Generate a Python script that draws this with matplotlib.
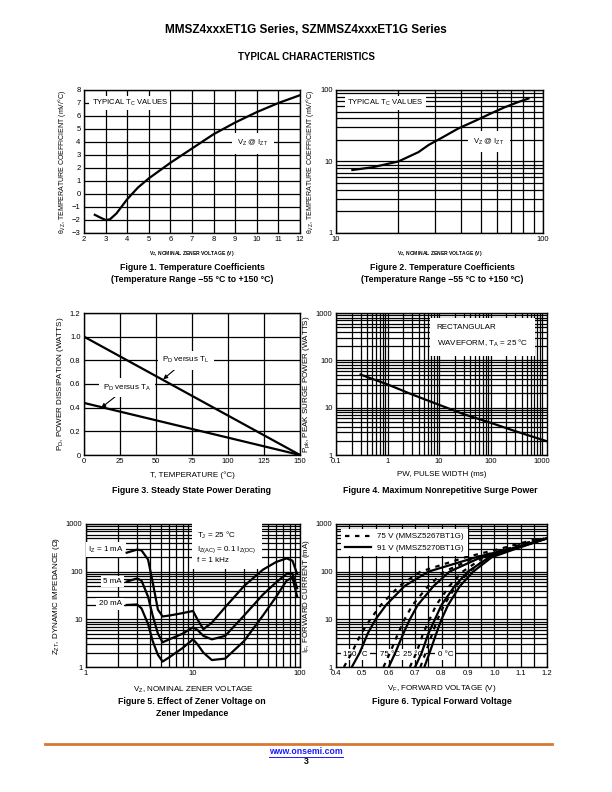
import numpy as np
import matplotlib.pyplot as plt
from matplotlib.lines import Line2D
from matplotlib.ticker import LogLocator, NullFormatter, FixedLocator

plt.rcParams['font.family'] = ['Liberation Sans', 'DejaVu Sans']
plt.rcParams['mathtext.fontset'] = 'custom'
plt.rcParams['mathtext.rm'] = 'Liberation Sans'
plt.rcParams['mathtext.it'] = 'Liberation Sans:italic'
plt.rcParams['mathtext.bf'] = 'Liberation Sans:bold'
plt.rcParams['mathtext.default'] = 'regular'

# Figure 1: temperature coefficient, 2-12 V
f1_vz = [2.5, 2.8, 3.0, 3.2, 3.5, 4.0, 4.5, 5.0, 6.0, 7.0, 8.0, 9.0, 10.0, 11.0, 12.0]
f1_tc = [-1.6, -1.85, -2.0, -1.95, -1.5, -0.4, 0.5, 1.2, 2.4, 3.5, 4.6, 5.5, 6.3, 7.0, 7.6]

# Figure 2: temperature coefficient, 10-100 V
f2_vz = [12, 15, 20, 25, 28, 32, 39, 47, 56, 65, 75, 85]
f2_tc = [7.6, 8.3, 10.0, 13.5, 17.0, 21.0, 29.0, 37.0, 47.0, 57.0, 67.0, 76.0]

# Figure 3: power derating
f3_t = [0, 150]
f3_tl = [1.0, 0.0]
f3_ta = [0.44, 0.0]

# Figure 4: surge power
f4_pw = [0.3, 1, 3, 10, 30, 100, 300, 1250]
f4_ppk = [50, 31, 19, 11.5, 7.3, 4.8, 3.2, 1.95]

# Figure 5: zener impedance
f5_vz = [2.4, 3.0, 3.3, 3.8, 4.2, 4.7, 5.2, 6.0, 8.0, 10.0, 11.0, 12.5, 15.0, 20.0, 30.0, 45.0, 60.0, 75.0, 85.0, 94.0]
f5_1ma = [250, 290, 280, 180, 60, 16, 11.5, 12, 13.5, 15, 10, 6.2, 8.5, 18, 50, 110, 160, 190, 170, 90]
f5_5ma = [62, 72, 65, 30, 12, 5, 3.3, 3.8, 5.0, 6.8, 6.0, 4.5, 3.8, 4.5, 12, 33, 60, 90, 90, 45]
f5_20ma = [20, 20.5, 17, 8, 3.5, 1.8, 1.3, 1.6, 2.5, 3.8, 3.0, 2.0, 1.4, 1.5, 3.5, 12, 30, 65, 75, 30]

# Figure 6: forward voltage (V) at these currents (mA)
f6_if = [1, 2, 5, 10, 20, 50, 100, 200, 300, 500]
f6_91v = {
    '150': [0.46, 0.49, 0.52, 0.55, 0.59, 0.66, 0.75, 0.93, 1.06, 1.20],
    '75': [0.60, 0.625, 0.655, 0.68, 0.71, 0.77, 0.83, 0.95, 1.07, 1.20],
    '25': [0.70, 0.725, 0.75, 0.775, 0.80, 0.85, 0.90, 0.98, 1.07, 1.20],
    '0': [0.735, 0.755, 0.78, 0.80, 0.825, 0.87, 0.92, 0.99, 1.08, 1.20],
}
f6_75v = {
    '150': [0.43, 0.46, 0.495, 0.53, 0.57, 0.64, 0.72, 0.89, 1.02, 1.17],
    '75': [0.58, 0.605, 0.635, 0.66, 0.69, 0.75, 0.81, 0.93, 1.05, 1.18],
    '25': [0.68, 0.705, 0.73, 0.755, 0.78, 0.83, 0.88, 0.96, 1.05, 1.18],
    '0': [0.72, 0.74, 0.765, 0.785, 0.81, 0.855, 0.905, 0.975, 1.065, 1.19],
}

W, H = 612, 792
fig = plt.figure(figsize=(W / 100, H / 100), dpi=100)


def box(l, t, r, b):
    return [l / W, 1 - b / H, (r - l) / W, (b - t) / H]


def ptext(x, y, s, **kw):
    fig.text(x / W, 1 - y / H, s, **kw)


def style(ax):
    for sp in ax.spines.values():
        sp.set_linewidth(1.0)
    ax.tick_params(which='both', length=0, labelsize=5.5, pad=2.5)
    ax.grid(True, which='both', color='black', lw=0.9)
    ax.set_axisbelow(True)


def logaxis(axis):
    axis.set_major_locator(LogLocator(base=10))
    axis.set_minor_locator(LogLocator(base=10, subs=np.arange(2, 10)))
    axis.set_minor_formatter(NullFormatter())


white = dict(facecolor='white', edgecolor='none', pad=1.5)
lab = dict(fontsize=5.5)

# header
ptext(306, 30, 'MMSZ4xxxET1G Series, SZMMSZ4xxxET1G Series', ha='center', va='center',
      fontsize=8.5, fontweight='bold')
ptext(306, 57, 'TYPICAL CHARACTERISTICS', ha='center', va='center', fontsize=7, fontweight='bold')

# ---- Figure 1
ax = fig.add_axes(box(84, 90, 300, 233))
ax.plot(f1_vz, f1_tc, color='black', lw=1.6, zorder=4)
ax.set_xlim(2, 12)
ax.set_ylim(-3, 8)
ax.set_xticks(range(2, 13))
ax.set_yticks(range(-3, 9))
ax.set_yticklabels([str(v).replace('-', '\u2212') for v in range(-3, 9)])
style(ax)
ax.text(2.35, 7, r'TYPICAL T$_C$ VALUES', va='center', bbox=white, **lab)
ax.text(9.1, 3.9, r'V$_Z$ @ I$_{ZT}$', va='center', bbox=dict(facecolor='white', edgecolor='none', pad=4), **lab)
ax.set_xlabel(r'V$_Z$, NOMINAL ZENER VOLTAGE (V)', fontsize=3.6, fontweight='bold', labelpad=4)
ax.set_ylabel(r'$\theta_{VZ}$, TEMPERATURE COEFFICIENT (mV/°C)', fontsize=5, labelpad=3)
ptext(192, 268, 'Figure 1. Temperature Coefficients', ha='center', va='center', fontsize=6.3, fontweight='bold')
ptext(192, 279, '(Temperature Range \u221255 °C to +150 °C)', ha='center', va='center', fontsize=6.3, fontweight='bold')

# ---- Figure 2
ax = fig.add_axes(box(336, 90, 543, 233))
ax.plot(f2_vz, f2_tc, color='black', lw=1.6, zorder=4)
ax.set_xscale('log')
ax.set_yscale('log')
ax.set_xlim(10, 100)
ax.set_ylim(1, 100)
logaxis(ax.xaxis)
logaxis(ax.yaxis)
ax.xaxis.set_major_formatter(plt.FuncFormatter(lambda v, p: f'{v:g}'))
ax.yaxis.set_major_formatter(plt.FuncFormatter(lambda v, p: f'{v:g}'))
style(ax)
ax.text(11.3, 66, r'TYPICAL T$_C$ VALUES', va='center', bbox=white, **lab)
ax.text(46, 19, r'V$_Z$ @ I$_{ZT}$', va='center', bbox=dict(facecolor='white', edgecolor='none', pad=4), **lab)
ax.set_xlabel(r'V$_Z$, NOMINAL ZENER VOLTAGE (V)', fontsize=3.6, fontweight='bold', labelpad=4)
ax.set_ylabel(r'$\theta_{VZ}$, TEMPERATURE COEFFICIENT (mV/°C)', fontsize=5, labelpad=3)
ptext(442, 268, 'Figure 2. Temperature Coefficients', ha='center', va='center', fontsize=6.3, fontweight='bold')
ptext(442, 279, '(Temperature Range \u221255 °C to +150 °C)', ha='center', va='center', fontsize=6.3, fontweight='bold')

# ---- Figure 3
ax = fig.add_axes(box(84, 313, 300, 455))
ax.plot(f3_t, f3_tl, color='black', lw=1.6, zorder=4)
ax.plot(f3_t, f3_ta, color='black', lw=1.6, zorder=4)
ax.set_xlim(0, 150)
ax.set_ylim(0, 1.2)
ax.set_xticks(range(0, 151, 25))
ax.set_yticks(np.arange(0, 1.21, 0.2))
ax.set_yticklabels(['0', '0.2', '0.4', '0.6', '0.8', '1.0', '1.2'])
style(ax)
ax.annotate(r'P$_D$ versus T$_L$', xy=(55, 0.64), xytext=(54, 0.80), fontsize=5.8, va='center',
            bbox=dict(facecolor='white', edgecolor='none', pad=3),
            arrowprops=dict(arrowstyle='-|>', color='black', lw=0.8, mutation_scale=6, shrinkA=0, shrinkB=0))
ax.annotate(r'P$_D$ versus T$_A$', xy=(12, 0.40), xytext=(13, 0.57), fontsize=5.8, va='center',
            bbox=dict(facecolor='white', edgecolor='none', pad=3),
            arrowprops=dict(arrowstyle='-|>', color='black', lw=0.8, mutation_scale=6, shrinkA=0, shrinkB=0))
ax.set_xlabel('T, TEMPERATURE (°C)', fontsize=5.8, labelpad=4)
ax.set_ylabel(r'P$_D$, POWER DISSIPATION (WATTS)', fontsize=5.8, labelpad=3)
ptext(192, 490, 'Figure 3. Steady State Power Derating', ha='center', va='center', fontsize=6.3, fontweight='bold')

# ---- Figure 4
ax = fig.add_axes(box(336, 313, 547, 455))
ax.plot(f4_pw, f4_ppk, color='black', lw=1.6, zorder=4)
ax.set_xscale('log')
ax.set_yscale('log')
ax.set_xlim(0.1, 1250)
ax.set_ylim(1, 1000)
logaxis(ax.xaxis)
logaxis(ax.yaxis)
ax.xaxis.set_major_formatter(plt.FuncFormatter(lambda v, p: f'{v:g}'))
ax.yaxis.set_major_formatter(plt.FuncFormatter(lambda v, p: f'{v:g}'))
style(ax)
ax.text(9, 320, 'RECTANGULAR\n' + r'WAVEFORM, T$_A$ = 25 °C', va='center', fontsize=5.8, linespacing=1.8,
        bbox=dict(facecolor='white', edgecolor='none', pad=5))
ax.set_xlabel('PW, PULSE WIDTH (ms)', fontsize=5.8, labelpad=4)
ax.set_ylabel(r'P$_{pk}$, PEAK SURGE POWER (WATTS)', fontsize=5.8, labelpad=3)
ptext(440, 490, 'Figure 4. Maximum Nonrepetitive Surge Power', ha='center', va='center', fontsize=6.3, fontweight='bold')

# ---- Figure 5
ax = fig.add_axes(box(86, 524, 300, 667))
for ys in (f5_1ma, f5_5ma, f5_20ma):
    ax.plot(f5_vz, ys, color='black', lw=1.6, zorder=4)
ax.set_xscale('log')
ax.set_yscale('log')
ax.set_xlim(1, 100)
ax.set_ylim(1, 1000)
logaxis(ax.xaxis)
logaxis(ax.yaxis)
ax.xaxis.set_major_formatter(plt.FuncFormatter(lambda v, p: f'{v:g}'))
ax.yaxis.set_major_formatter(plt.FuncFormatter(lambda v, p: f'{v:g}'))
style(ax)
ax.text(2.25, 290, r'I$_Z$ = 1 mA', ha='right', va='center', fontsize=5.8, bbox=white)
ax.text(2.15, 63, '5 mA', ha='right', va='center', fontsize=5.8, bbox=white)
ax.text(2.15, 21, '20 mA', ha='right', va='center', fontsize=5.8, bbox=white)
ax.text(11, 330, r'T$_J$ = 25 °C' + '\n' + r'I$_{Z(AC)}$ = 0.1 I$_{Z(DC)}$' + '\nf = 1 kHz',
        va='center', fontsize=5.8, linespacing=1.4, bbox=dict(facecolor='white', edgecolor='none', pad=4))
ax.set_xlabel(r'V$_Z$, NOMINAL ZENER VOLTAGE', fontsize=5.8, labelpad=5)
ax.set_ylabel(r'Z$_{ZT}$, DYNAMIC IMPEDANCE ($\Omega$)', fontsize=5.8, labelpad=3)
ptext(192, 702, 'Figure 5. Effect of Zener Voltage on', ha='center', va='center', fontsize=6.3, fontweight='bold')
ptext(192, 714, 'Zener Impedance', ha='center', va='center', fontsize=6.3, fontweight='bold')

# ---- Figure 6
ax = fig.add_axes(box(336, 524, 547, 667))
for key in f6_91v:
    ax.plot(f6_91v[key], f6_if, color='black', lw=1.6, zorder=4)
    ax.plot(f6_75v[key], f6_if, color='black', lw=1.6, ls=(0, (2, 2.5)), zorder=4)
ax.set_yscale('log')
ax.set_xlim(0.4, 1.2)
ax.set_ylim(1, 1000)
ax.set_xticks(np.arange(0.4, 1.21, 0.1))
ax.set_xticklabels(['0.4', '0.5', '0.6', '0.7', '0.8', '0.9', '1.0', '1.1', '1.2'])
ax.xaxis.set_minor_locator(FixedLocator(np.arange(0.45, 1.2, 0.1)))
logaxis(ax.yaxis)
ax.yaxis.set_major_formatter(plt.FuncFormatter(lambda v, p: f'{v:g}'))
style(ax)
h1 = Line2D([], [], color='black', lw=1.6, ls=(0, (2, 2.5)))
h2 = Line2D([], [], color='black', lw=1.6)
leg = ax.legend([h1, h2], ['75 V (MMSZ5267BT1G)', '91 V (MMSZ5270BT1G)'], loc='upper left',
                fontsize=5.8, frameon=True, fancybox=False, edgecolor='none', framealpha=1,
                handlelength=3.2, borderpad=0.5, borderaxespad=0.6, labelspacing=0.5)
for s, x in (('150 °C', 0.427), ('75 °C', 0.565), ('25 °C', 0.655), ('0 °C', 0.785)):
    ax.text(x, 1.85, s, va='center', fontsize=5.8, bbox=white, zorder=3)
ax.set_xlabel(r'V$_F$, FORWARD VOLTAGE (V)', fontsize=5.8, labelpad=4)
ax.set_ylabel(r'I$_F$, FORWARD CURRENT (mA)', fontsize=5.8, labelpad=3)
ptext(442, 702, 'Figure 6. Typical Forward Voltage', ha='center', va='center', fontsize=6.3, fontweight='bold')

# footer
fig.add_artist(Line2D([45 / W, 552 / W], [1 - 744 / H] * 2, color='#d57a34', lw=2))
ptext(306, 752, 'www.onsemi.com', ha='center', va='center', fontsize=6.3, fontweight='bold', color='#1a1aff')
fig.add_artist(Line2D([269 / W, 343 / W], [1 - 757 / H] * 2, color='#1a1aff', lw=0.7))
ptext(306, 762, '3', ha='center', va='center', fontsize=6.3, fontweight='bold')

fig.savefig('out.png', dpi=100)
